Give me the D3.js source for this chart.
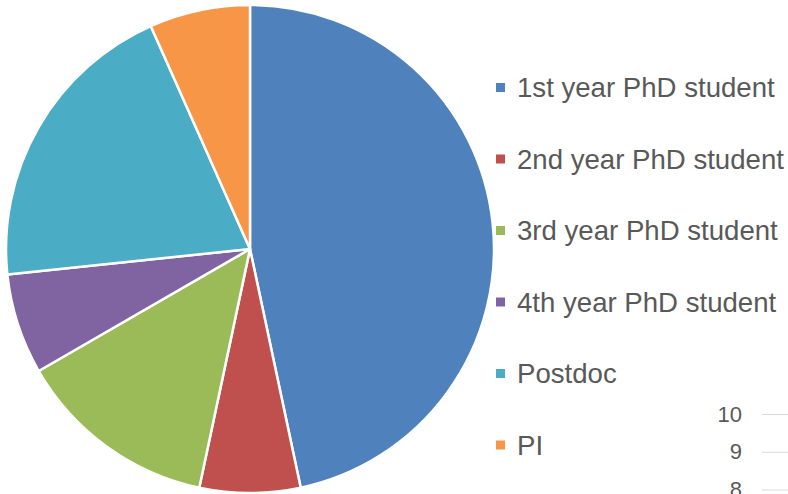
<!DOCTYPE html>
<html><head><meta charset="utf-8">
<script src="https://cdn.jsdelivr.net/npm/d3@7"></script>
<style>body{margin:0;background:#fff}svg{display:block}</style>
</head><body>
<script>
const categories = ["1st year PhD student","2nd year PhD student","3rd year PhD student","4th year PhD student","Postdoc","PI"];
const values = [7,1,2,1,3,1];
const colors = ["#4F81BD","#C0504D","#9BBB59","#8064A2","#4BACC6","#F79646"];
const axisTicks = [8,9,10];

const W=788,H=494;
const svg=d3.select("body").append("svg").attr("width",W).attr("height",H);

const cx=250, cy=249, r=244;
const pie=d3.pie().sort(null).value(d=>d)(values);
const arc=d3.arc().innerRadius(0).outerRadius(r);
svg.append("g").attr("transform",`translate(${cx},${cy})`)
  .selectAll("path").data(pie).join("path")
  .attr("d",arc).attr("fill",(d,i)=>colors[i])
  .attr("stroke","#fff").attr("stroke-width",2.5).attr("stroke-linejoin","round");

const ly=d3.scalePoint().domain(categories).range([87.5,445]);
const lg=svg.append("g").selectAll("g").data(categories).join("g")
  .attr("transform",d=>`translate(0,${ly(d)})`);
lg.append("rect").attr("x",496).attr("y",-4.5).attr("width",9).attr("height",9)
  .attr("fill",(d,i)=>colors[i]);
lg.append("text").attr("x",517).attr("y",9.5).text(d=>d)
  .attr("font-family","Liberation Sans, Arial, sans-serif").attr("font-size",27.6).attr("fill","#595959");

const y=d3.scaleLinear().domain([8,10]).range([489.5,414]);
const ax=svg.append("g").attr("transform","translate(762,0)")
  .call(d3.axisLeft(y).tickValues(axisTicks).tickSize(-26).tickPadding(20).tickFormat(d3.format("d")));
ax.select(".domain").remove();
ax.selectAll("line").attr("stroke","#d9d9d9").attr("stroke-width",1);
ax.selectAll("text").attr("font-family","Liberation Sans, Arial, sans-serif").attr("font-size",22).attr("fill","#595959");
</script>
</body></html>
